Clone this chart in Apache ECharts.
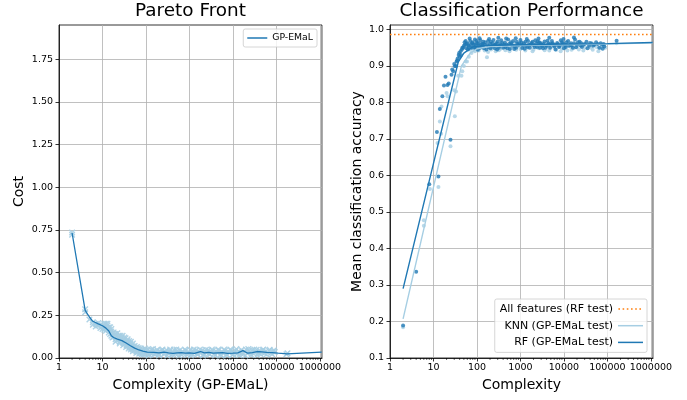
<!DOCTYPE html>
<html><head><meta charset="utf-8">
<script src="https://cdn.jsdelivr.net/npm/echarts@6/dist/echarts.min.js"></script>
<style>html,body{margin:0;padding:0;background:#fff}#c{width:687px;height:400px}</style>
</head><body><div id="c"></div>
<script>
// ---------- data ----------
const paretoScatter = [
[2,0.735],[2,0.722],[4,0.285],[4,0.268],[5,0.225],[6,0.21],[6,0.195],[7,0.2],[7,0.185],[8,0.19],[8,0.205],[9,0.175],[9,0.195],[10,0.185],[10,0.17],[11,0.19],[11,0.165],[12,0.2],[12,0.16],[13,0.175],[13,0.19],[14,0.15],[14,0.165],[15,0.18],[15,0.14],[16,0.13],[16,0.155],[17,0.12],[17,0.145],[18,0.125],[19,0.14],[20,0.11],[21,0.13],[22,0.105],[23,0.125],[24,0.115],[25,0.095],[26,0.13],[27,0.1],[28,0.12],[30,0.09],[31,0.11],[33,0.085],[34,0.115],[36,0.075],[37,0.1],[39,0.07],[40,0.09],[42,0.065],[44,0.085],[46,0.058],[48,0.075],[50,0.05],[52,0.068],[55,0.045],[58,0.06],[60,0.04],[63,0.055],[66,0.035],[70,0.05],[74,0.03],[78,0.045],[82,0.028],[87,0.04],[92,0.025],[97,0.045],
[11,0.2],[13,0.2],[14,0.18],[16,0.17],[18,0.15],[20,0.14],[22,0.145],[24,0.13],[26,0.11],[29,0.13],[32,0.12],[35,0.095],[38,0.11],[41,0.1],[45,0.095],[50,0.085],[55,0.07],[62,0.065],[68,0.058],[76,0.055],[85,0.05],[95,0.055],
[20,0.095],[25,0.085],[30,0.075],[35,0.065],[40,0.055],[45,0.05],[50,0.04],[60,0.03],[70,0.025],[80,0.02],[90,0.02],
[105,0.03],[110,0.045],[118,0.022],[125,0.038],[133,0.05],[140,0.028],[150,0.04],[160,0.02],[170,0.035],[180,0.048],[195,0.025],[210,0.04],[225,0.032],[240,0.05],[260,0.022],[280,0.038],[300,0.045],[325,0.028],[350,0.04],[380,0.018],[410,0.035],[440,0.048],[480,0.025],[520,0.04],[560,0.03],[600,0.045],[650,0.02],[700,0.038],[760,0.028],[820,0.042],[890,0.018],[960,0.035],[1040,0.048],[1120,0.025],[1220,0.04],[1320,0.03],[1430,0.045],[1550,0.02],[1680,0.036],[1820,0.028],[1970,0.044],[2130,0.022],[2300,0.038],[2500,0.03],[2700,0.046],[2950,0.02],[3200,0.035],[3450,0.042],[3750,0.025],[4050,0.04],[4400,0.03],[4750,0.045],[5150,0.02],[5600,0.037],[6050,0.028],[6550,0.043],[7100,0.022],[7700,0.038],[8350,0.03],[9050,0.045],[9800,0.018],[10600,0.035],[11500,0.042],[12500,0.025],[13500,0.04],[14600,0.03],[15800,0.047],[17100,0.022],[18500,0.038],[20000,0.05],[21700,0.028],[23500,0.042],[25500,0.032],[27600,0.045],[30000,0.025],[32500,0.04],[35200,0.048],[38100,0.03],[41300,0.042],[44700,0.035],[48500,0.045],[52500,0.028],[57000,0.04],[62000,0.033],[68000,0.042],[75000,0.03],[83000,0.038],[92000,0.035],[170000,0.022],[180000,0.028],
[102,0.045],[115,0.015],[128,0.028],[145,0.052],[165,0.03],[200,0.015],[230,0.045],[270,0.03],[310,0.015],[360,0.05],[420,0.022],[500,0.05],[580,0.015],[680,0.03],[790,0.05],[920,0.026],[1080,0.015],[1260,0.05],[1480,0.026],[1750,0.05],[2050,0.014],[2400,0.048],[2820,0.027],[3300,0.05],[3900,0.015],[4600,0.05],[5400,0.014],[6300,0.05],[7400,0.016],[8700,0.05],[10200,0.024],[12000,0.052],[14000,0.016],[16500,0.03],[19300,0.015],[22600,0.052],[26500,0.018],[31000,0.05],[36500,0.018],[43000,0.024],[50000,0.05],[59000,0.02],[70000,0.048],[80000,0.022],[88000,0.045]
];
const paretoLine = [
[2,0.732],[4,0.279],[5,0.24],[6,0.215],[8,0.2],[10,0.189],[12,0.175],[14,0.158],[16,0.13],[18,0.12],[22,0.11],[28,0.102],[35,0.088],[44,0.072],[55,0.058],[69,0.047],[85,0.04],[107,0.034],[150,0.033],[200,0.03],[260,0.034],[330,0.03],[420,0.027],[520,0.03],[650,0.032],[800,0.028],[1000,0.03],[1300,0.027],[1800,0.038],[2200,0.03],[2800,0.033],[3500,0.028],[4500,0.03],[5800,0.031],[7500,0.027],[10000,0.028],[13000,0.03],[17000,0.043],[22000,0.028],[28000,0.032],[36000,0.038],[46000,0.036],[60000,0.033],[80000,0.032],[110000,0.028],[175000,0.024],[1100000,0.034]
];
const rfScatter = [
[2,0.189],[4,0.336],[8,0.576],[12,0.719],[13,0.597],[14,0.782],[16,0.817],[17.4,0.846],[18.9,0.87],[21,0.848],[22.4,0.852],[24.6,0.698],[26,0.876],[28.5,0.885],[31,0.899],[34,0.912],[36,0.92],[38,0.93],[40,0.925],[42,0.94],[45,0.945],[48,0.95],[50,0.955],[52,0.965],[55,0.968],[58,0.96],
[60,0.962],[65,0.955],[70,0.968],[75,0.95],[80,0.965],[85,0.958],[90,0.972],[95,0.948],[100,0.963],[110,0.955],[120,0.97],[130,0.952],[140,0.966],[150,0.958],[165,0.945],[180,0.968],[200,0.96],[220,0.953],[240,0.971],[260,0.948],[280,0.962],[300,0.967],[330,0.955],[360,0.97],[400,0.95],[440,0.964],[480,0.958],[520,0.972],[570,0.946],[620,0.96],[680,0.968],[750,0.953],[820,0.966],[900,0.957],[1000,0.971],[1100,0.949],[1200,0.962],[1350,0.955],[1500,0.968],[1650,0.95],[1800,0.963],[2000,0.957],[2200,0.97],[2400,0.952],[2700,0.965],[3000,0.958],[3300,0.948],[3600,0.967],[4000,0.955],[4400,0.962],[4800,0.95],[5300,0.968],[5800,0.957],[6400,0.945],[7000,0.963],[7700,0.952],[8500,0.97],[9300,0.958],[10000,0.948],[11500,0.965],[13000,0.955],[14500,0.962],[16000,0.95],[18000,0.972],[20000,0.958],[23000,0.966],[26000,0.952],[30000,0.96],[35000,0.948],[40000,0.963],[47000,0.955],[55000,0.965],[65000,0.95],[75000,0.958],[85000,0.953],[163000,0.969],
[62,0.945],[72,0.958],[88,0.95],[105,0.944],[125,0.96],[145,0.948],[175,0.957],[210,0.966],[250,0.955],[290,0.945],[340,0.96],[420,0.957],[500,0.948],[600,0.965],[720,0.946],[850,0.96],[1050,0.964],[1250,0.947],[1550,0.958],[1900,0.966],[2300,0.961],[2800,0.95],[3400,0.96],[4200,0.969],[5000,0.96],[6000,0.953],[7300,0.959],[8900,0.965],[10800,0.957],[12500,0.968],[15000,0.956],[19000,0.951],[25000,0.962],[33000,0.966],[44000,0.961],[60000,0.96],[78000,0.947],
[68,0.975],[115,0.976],[190,0.974],[310,0.977],[470,0.975],[780,0.976],[1400,0.974],[2600,0.975],[4600,0.977],[9800,0.974],[17000,0.978],
[64,0.952],[78,0.962],[92,0.957],[98,0.968],[108,0.962],[118,0.95],[135,0.96],[155,0.965],[185,0.952],[205,0.948],[230,0.962],[270,0.958],[320,0.95],[380,0.963],[450,0.952],[550,0.96],[650,0.955],[800,0.95],[950,0.962],[1150,0.956],[1300,0.966],[1450,0.952],[1700,0.958],[2100,0.952],[2500,0.967],[2900,0.962],[3200,0.955],[3800,0.95],[4500,0.958],[5500,0.962],[6700,0.958],[8000,0.955],[9500,0.963],[11000,0.952],[14000,0.958],[17000,0.962],[21000,0.965],[24000,0.956],[28000,0.958],[38000,0.955],[50000,0.958],[70000,0.962],[82000,0.96],
[27,0.89],[30,0.905],[33,0.9],[35,0.915],[39,0.935],[43,0.93],[46,0.95],[53,0.958],[57,0.948]
];
const knnScatter = [
[2,0.184],[6,0.477],[6,0.462],[8.3,0.563],[12.4,0.689],[13,0.568],[14,0.748],[15,0.714],[15.3,0.789],[20,0.826],[21,0.817],[24.6,0.68],[30,0.833],[31,0.762],[33,0.83],[37,0.873],[44,0.873],[46,0.885],[50,0.9],[55,0.912],[59,0.912],[65,0.925],
[70,0.945],[80,0.952],[90,0.94],[100,0.955],[115,0.948],[130,0.958],[150,0.942],[170,0.924],[190,0.95],[210,0.945],[240,0.958],[270,0.94],[300,0.952],[350,0.947],[400,0.96],[450,0.943],[520,0.955],[600,0.948],[700,0.962],[800,0.944],[950,0.953],[1100,0.958],[1300,0.942],[1500,0.95],[1750,0.96],[2000,0.945],[2300,0.953],[2700,0.948],[3100,0.962],[3600,0.943],[4200,0.955],[5000,0.95],[5800,0.96],[6700,0.944],[7800,0.952],[9000,0.947],[10500,0.958],[12000,0.942],[14000,0.953],[16500,0.948],[19000,0.96],[22000,0.945],[26000,0.955],[31000,0.95],[38000,0.958],[46000,0.944],[56000,0.952],[68000,0.948],[82000,0.955],[163000,0.962],
[75,0.935],[85,0.945],[110,0.942],[140,0.95],[180,0.938],[230,0.948],[320,0.943],[420,0.95],[560,0.94],[750,0.952],[1000,0.946],[1400,0.955],[1900,0.94],[2500,0.95],[3300,0.955],[4600,0.942],[6200,0.952],[8400,0.94],[11000,0.95],[15000,0.944],[20000,0.952],[28000,0.942],[42000,0.95],[62000,0.94],[90000,0.95]
];
const rfLine = [[2,0.29],[10,0.633],[37,0.91],[50,0.935],[80,0.952],[150,0.956],[1000,0.958],[10000,0.96],[100000,0.961],[1100000,0.964]];
const knnLine = [[2,0.207],[44,0.9],[70,0.935],[100,0.947],[200,0.953],[1000,0.956],[10000,0.958],[100000,0.96],[1100000,0.963]];
const allFeaturesAcc = 0.986;
const costTicks = [0,0.25,0.5,0.75,1.0,1.25,1.5,1.75];
const accTicks = [0.1,0.2,0.3,0.4,0.5,0.6,0.7,0.8,0.9,1.0];
const minorTickMantissas = [2,3,4,5,6,7,8,9];
const decades = [1,10,100,1000,10000,100000];
const xMin = 1, xMax = 1120000;

const minorTickVals = [];
decades.forEach(d => minorTickMantissas.forEach(m => minorTickVals.push(m * d)));

const FONT = 'DejaVu Sans';
const grey = '#b0b0b0';
const lightBlue = '#a6cee3', darkBlue = '#1f78b4', orange = '#ff7f0e';
const xSymbol = 'path://M1.5,0 L5,3.5 L8.5,0 L10,1.5 L6.5,5 L10,8.5 L8.5,10 L5,6.5 L1.5,10 L0,8.5 L3.5,5 L0,1.5 Z';
const solidIcon = 'path://M0,0 H25 V1.5 H0 Z';
const solidIconL = 'path://M0,0 H20 V1.5 H0 Z';
let dots = '';
for (let i = 0; i < 6; i++) dots += 'M' + (i * 4.2 + 0.4) + ',0 h1.6 v1.5 h-1.6 Z ';
const dottedIcon = 'path://M0,0 M25,1.5 ' + dots;

function logLabel(v){
  const l = Math.log10(v), r = Math.round(l);
  return Math.abs(l - r) < 1e-6 ? String(Math.round(Math.pow(10, r))) : '';
}
function xAxisMain(gi, name){
  return {
    type:'log', logBase:10, gridIndex:gi, min:xMin, max:xMax,
    name:name, nameLocation:'middle', nameGap:19,
    nameTextStyle:{fontFamily:FONT, fontSize:14, color:'#000'},
    axisLine:{show:true, lineStyle:{color:'#000', width:0.8}},
    axisTick:{show:true, inside:false, length:3.5, lineStyle:{color:'#000', width:0.8}},
    axisLabel:{fontFamily:FONT, fontSize:9.5, color:'#000', margin:5, formatter:logLabel, showMaxLabel:false},
    splitLine:{show:true, lineStyle:{color:grey, width:0.8}}
  };
}
function minorTickSeries(gi, base){
  return {
    type:'custom', xAxisIndex:gi, yAxisIndex:gi, silent:true, clip:false, z:1,
    data: minorTickVals.map(v => [v, base]),
    renderItem:(params, api) => {
      const p = api.coord([api.value(0), api.value(1)]);
      return {type:'line', shape:{x1:p[0], y1:p[1], x2:p[0], y2:p[1] + 2}, style:{stroke:'#000', lineWidth:0.6}};
    }
  };
}

const opt = {
  animation:false,
  backgroundColor:'#fff',
  textStyle:{fontFamily:FONT},
  title:[
    {text:'Pareto Front', left:190.5, top:2.5, textAlign:'center', padding:0,
     textStyle:{fontFamily:FONT, fontSize:18.4, fontWeight:'normal', color:'#000'}},
    {text:'Classification Performance', left:521.5, top:2.5, textAlign:'center', padding:0,
     textStyle:{fontFamily:FONT, fontSize:18.4, fontWeight:'normal', color:'#000'}}
  ],
  grid:[
    {left:59, top:25, width:263, height:333, show:true, borderColor:'#000', borderWidth:0.8, backgroundColor:'transparent'},
    {left:390, top:25, width:263, height:333, show:true, borderColor:'#000', borderWidth:0.8, backgroundColor:'transparent'}
  ],
  xAxis:[ xAxisMain(0,'Complexity (GP-EMaL)'), xAxisMain(1,'Complexity') ],
  yAxis:[
    {type:'value', gridIndex:0, min:0, max:1.95, interval:0.25,
     name:'Cost', nameLocation:'middle', nameGap:33,
     nameTextStyle:{fontFamily:FONT, fontSize:14, color:'#000'},
     axisLine:{show:true, lineStyle:{color:'#000', width:0.8}},
     axisTick:{show:true, length:3.5, customValues:costTicks, lineStyle:{color:'#000', width:0.8}},
     axisLabel:{fontFamily:FONT, fontSize:9.5, color:'#000', margin:6, customValues:costTicks, formatter:v=>v.toFixed(2)},
     splitLine:{show:true, lineStyle:{color:grey, width:0.8}}},
    {type:'value', gridIndex:1, min:0.1, max:1.012, interval:0.1,
     name:'Mean classification accuracy', nameLocation:'middle', nameGap:26,
     nameTextStyle:{fontFamily:FONT, fontSize:14, color:'#000'},
     axisLine:{show:true, lineStyle:{color:'#000', width:0.8}},
     axisTick:{show:true, length:3.5, customValues:accTicks, lineStyle:{color:'#000', width:0.8}},
     axisLabel:{fontFamily:FONT, fontSize:9.5, color:'#000', margin:6, customValues:accTicks, formatter:v=>v.toFixed(1)},
     splitLine:{show:true, lineStyle:{color:grey, width:0.8}}}
  ],
  legend:[
    {data:[{name:'GP-EMaL', icon:solidIconL, itemStyle:{color:darkBlue, borderWidth:0}}],
     orient:'vertical', right:370, top:29, align:'left',
     itemWidth:20, itemHeight:1.5, itemGap:4, symbolKeepAspect:false,
     padding:[4,4,4,4], backgroundColor:'rgba(255,255,255,0.8)', borderColor:'#ccc', borderWidth:0.8, borderRadius:2,
     textStyle:{fontFamily:FONT, fontSize:9.3, lineHeight:10, color:'#000'}},
    {data:[
       {name:'All features (RF test)', icon:dottedIcon, itemStyle:{color:orange, borderWidth:0}},
       {name:'KNN (GP-EMaL test)', icon:solidIcon, itemStyle:{color:lightBlue, borderWidth:0}},
       {name:'RF (GP-EMaL test)', icon:solidIcon, itemStyle:{color:darkBlue, borderWidth:0}}],
     orient:'vertical', right:40, top:299, align:'right',
     itemWidth:25, itemHeight:1.5, itemGap:5.7, symbolKeepAspect:false,
     padding:[4.5,4,4.5,5], backgroundColor:'rgba(255,255,255,0.8)', borderColor:'#ccc', borderWidth:0.8, borderRadius:2,
     textStyle:{fontFamily:FONT, fontSize:11, lineHeight:11, color:'#000'}}
  ],
  series:[
    minorTickSeries(0, 0),
    minorTickSeries(1, 0.1),
    {name:'GP-EMaL points', type:'scatter', xAxisIndex:0, yAxisIndex:0, data:paretoScatter,
     symbol:xSymbol, symbolSize:6.5, itemStyle:{color:lightBlue, opacity:0.9}, z:2},
    {name:'GP-EMaL', type:'line', xAxisIndex:0, yAxisIndex:0, data:paretoLine,
     symbol:'none', lineStyle:{color:darkBlue, width:1.3}, itemStyle:{color:darkBlue}, z:3},
    {name:'KNN points', type:'scatter', xAxisIndex:1, yAxisIndex:1, data:knnScatter,
     symbol:'circle', symbolSize:4, itemStyle:{color:lightBlue}, z:2},
    {name:'RF points', type:'scatter', xAxisIndex:1, yAxisIndex:1, data:rfScatter,
     symbol:'circle', symbolSize:4, itemStyle:{color:darkBlue}, z:2},
    {name:'All features (RF test)', type:'line', xAxisIndex:1, yAxisIndex:1,
     data:[[xMin,allFeaturesAcc],[xMax,allFeaturesAcc]],
     symbol:'none', lineStyle:{color:orange, width:1.6, type:[1.6,2.4]}, itemStyle:{color:orange}, z:3},
    {name:'KNN (GP-EMaL test)', type:'line', xAxisIndex:1, yAxisIndex:1, data:knnLine,
     symbol:'none', lineStyle:{color:lightBlue, width:1.4}, itemStyle:{color:lightBlue}, z:3},
    {name:'RF (GP-EMaL test)', type:'line', xAxisIndex:1, yAxisIndex:1, data:rfLine,
     symbol:'none', lineStyle:{color:darkBlue, width:1.4}, itemStyle:{color:darkBlue}, z:4}
  ]
};
const chart = echarts.init(document.getElementById('c'), null, {renderer:'canvas'});
chart.setOption(opt);
</script>
</body></html>
